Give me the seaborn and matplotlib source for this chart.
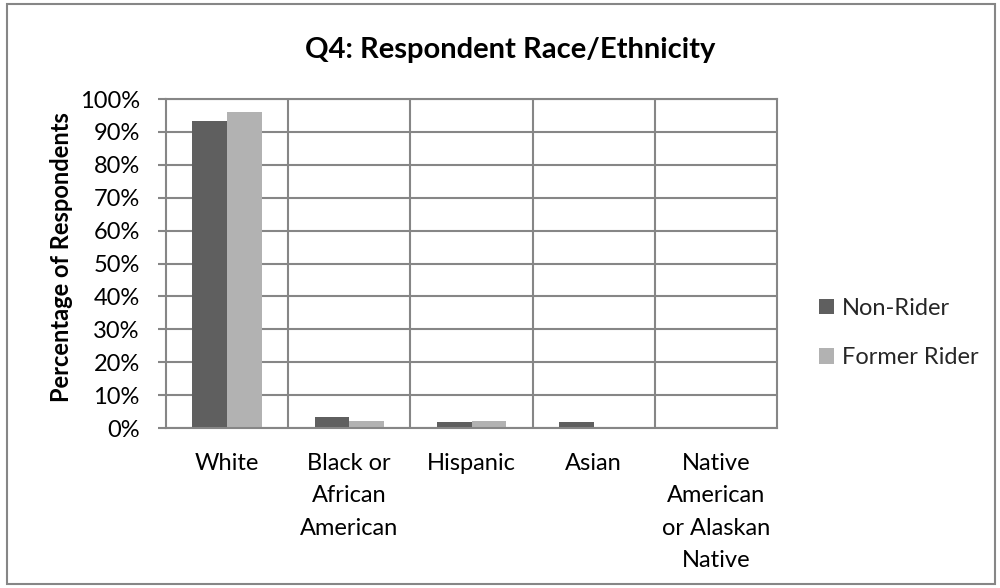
import matplotlib
matplotlib.use("Agg")
import matplotlib.pyplot as plt
import seaborn as sns
import pandas as pd
from matplotlib.patches import Rectangle
from matplotlib.ticker import FixedLocator

categories = ["White", "Black or\nAfrican\nAmerican", "Hispanic", "Asian",
              "Native\nAmerican\nor Alaskan\nNative"]
series_names = ["Non-Rider", "Former Rider"]
non_rider = [93.3, 3.3, 1.7, 1.7, 0.0]
former_rider = [96.0, 2.0, 2.0, 0.0, 0.0]
y_ticks = [0, 10, 20, 30, 40, 50, 60, 70, 80, 90, 100]
y_tick_labels = [f"{v}%" for v in y_ticks]
title = "Q4: Respondent Race/Ethnicity"
y_label = "Percentage of Respondents"

sns.set_theme(style="white")
plt.rcParams['font.family'] = ['Lato', 'DejaVu Sans']

df = pd.DataFrame({
    "Category": categories * 2,
    "Series": [series_names[0]] * len(categories) + [series_names[1]] * len(categories),
    "Value": non_rider + former_rider,
})

GRID = "#868686"
fig = plt.figure(figsize=(10, 5.88), dpi=100)
ax = fig.add_axes([0.166, 0.272, 0.611, 0.5595])
sns.barplot(data=df, x="Category", y="Value", hue="Series", order=categories,
            hue_order=series_names, palette=["#5f5f5f", "#b2b2b2"], width=0.567,
            saturation=1, linewidth=0, ax=ax, legend=True)

ax.set_xlim(-0.5, len(categories) - 0.5)
ax.set_ylim(0, 100)
ax.set_yticks(y_ticks)
ax.set_yticklabels(y_tick_labels)
ax.xaxis.set_minor_locator(FixedLocator([i + 0.5 for i in range(len(categories) - 1)]))
ax.grid(axis="y", which="major", color=GRID, linewidth=1.5)
ax.grid(axis="x", which="minor", color=GRID, linewidth=1.5)
ax.grid(axis="x", which="major", visible=False)
ax.set_axisbelow(True)
for s in ax.spines.values():
    s.set_visible(True)
    s.set_color(GRID)
    s.set_linewidth(1.5)
ax.tick_params(axis="y", which="major", left=True, length=5.8, width=1.5, color=GRID,
               pad=13, labelsize=17, labelcolor="black")
ax.tick_params(axis="x", which="both", bottom=False, length=0, pad=18, labelsize=17,
               labelcolor="black")
for lbl in ax.get_xticklabels():
    lbl.set_linespacing(1.66)
    lbl.set_ha("center")
ax.set_xlabel("")
ax.set_ylabel("")

handles, labels = ax.get_legend_handles_labels()
ax.legend(handles, labels, loc="center left", bbox_to_anchor=(0.819, 1 - 333 / 588),
          bbox_transform=fig.transFigure, frameon=False, fontsize=17,
          handlelength=0.62, handleheight=0.62, handletextpad=0.35, labelspacing=1.2,
          borderpad=0, borderaxespad=0)

fig.text(0.51, 1 - 50 / 588, title, ha="center", va="center", fontsize=21,
         fontweight="bold", color="black")
fig.text(0.062, 1 - 257 / 588, y_label, ha="center", va="center", rotation=90,
         fontsize=17, fontweight="bold", color="black")

fig.patches.append(Rectangle((0.007, 0.007), 0.988, 0.986, transform=fig.transFigure,
                             fill=False, edgecolor=GRID, linewidth=1.5))

fig.savefig("out.png", dpi=100, facecolor="white")
